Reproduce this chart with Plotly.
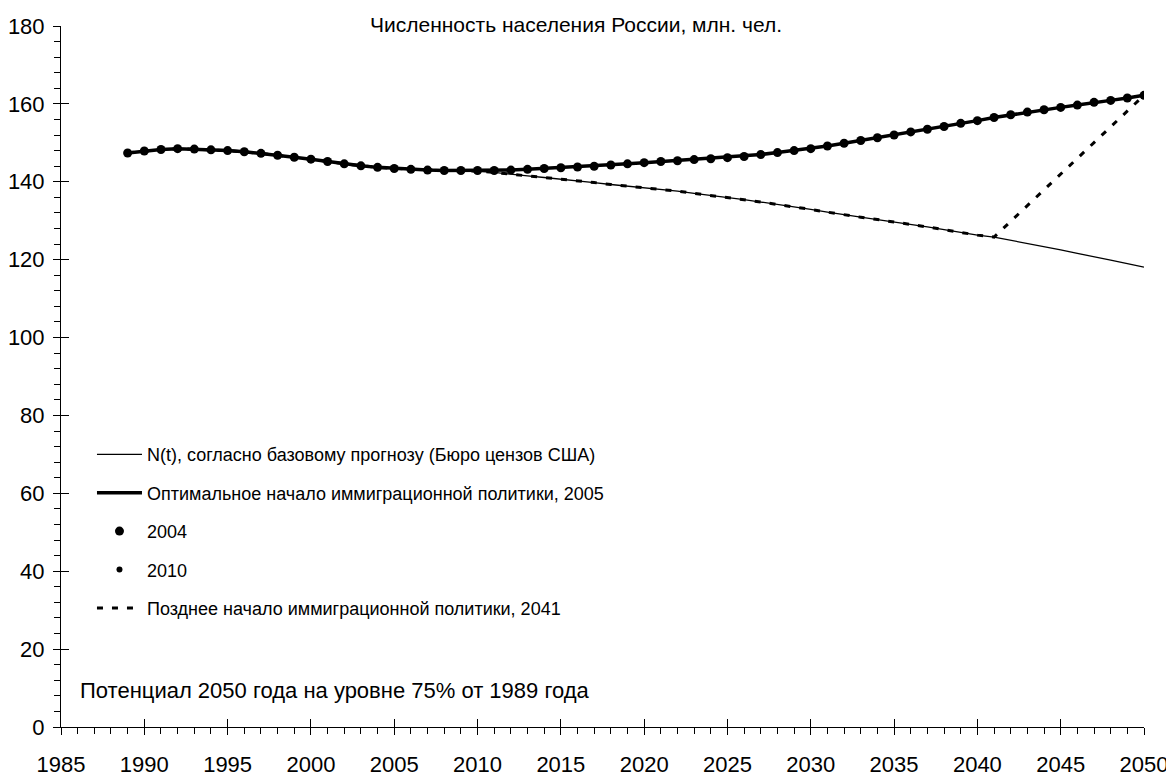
import plotly.graph_objects as go

years = list(range(1989, 2051))

# Optimal immigration policy (2005) – top curve; series 2004 and 2010 coincide with it
optimal = [147.4, 147.9, 148.3, 148.5, 148.4, 148.2, 148.0, 147.7, 147.3, 146.8,
           146.3, 145.8, 145.2, 144.6, 144.1, 143.7, 143.4, 143.2, 143.0, 142.9,
           142.9, 142.9, 142.9, 143.0, 143.2, 143.4, 143.6, 143.8, 144.0, 144.3,
           144.6, 144.9, 145.2, 145.4, 145.7, 145.9, 146.2, 146.5, 147.0, 147.5,
           148.0, 148.5, 149.2, 149.9, 150.6, 151.3, 152.0, 152.8, 153.5, 154.2,
           155.0, 155.7, 156.5, 157.2, 157.9, 158.5, 159.1, 159.7, 160.4, 160.9,
           161.5, 162.2]
series_2004 = list(optimal)
series_2010 = list(optimal)

# Base forecast N(t) (US Census Bureau)
base = [147.4, 147.9, 148.3, 148.5, 148.4, 148.2, 148.0, 147.7, 147.3, 146.8,
        146.3, 145.8, 145.2, 144.6, 144.1, 143.7, 143.4, 143.2, 143.0, 142.9,
        142.8, 142.7, 142.4, 141.9, 141.5, 141.1, 140.7, 140.3, 139.8, 139.3,
        138.9, 138.5, 138.0, 137.6, 137.0, 136.5, 136.0, 135.4, 134.8, 134.2,
        133.5, 132.9, 132.2, 131.5, 130.9, 130.3, 129.7, 129.1, 128.4, 127.7,
        127.0, 126.3, 125.8, 125.0, 124.2, 123.4, 122.5, 121.6, 120.8, 119.9,
        119.0, 118.1]

# Late immigration policy (2041)
late_years = list(range(1989, 2042)) + [2050]
late_values = base[:len(range(1989, 2042))] + [162.2]

x_ticks = list(range(1985, 2051, 5))
y_ticks = list(range(0, 181, 20))

FONT = "Liberation Sans, Arial, sans-serif"

fig = go.Figure()
fig.add_trace(go.Scatter(x=years, y=base, mode="lines",
                         line=dict(color="black", width=1.3),
                         name="N(t), согласно базовому прогнозу (Бюро цензов США)",
                         legendgroup="a"))
fig.add_trace(go.Scatter(x=years, y=optimal, mode="lines",
                         line=dict(color="black", width=3.5),
                         name="Оптимальное начало иммиграционной политики, 2005",
                         legendgroup="b"))
fig.add_trace(go.Scatter(x=years, y=series_2004, mode="markers",
                         marker=dict(color="black", size=9, symbol="circle"),
                         name="2004", legendgroup="c"))
fig.add_trace(go.Scatter(x=years, y=series_2010, mode="markers",
                         marker=dict(color="black", size=6, symbol="circle"),
                         name="2010", legendgroup="d"))
fig.add_trace(go.Scatter(x=late_years, y=late_values, mode="lines",
                         line=dict(color="black", width=3, dash="6px,9px"),
                         name="Позднее начало иммиграционной политики, 2041",
                         legendgroup="e"))

# invisible trace on overlay axes for the inner half of crossing major ticks
fig.add_trace(go.Scatter(x=[1985, 2050], y=[0, 180], mode="lines", xaxis="x2", yaxis="y2",
                         line=dict(width=0, color="rgba(0,0,0,0)"), showlegend=False,
                         hoverinfo="skip"))

axis_common = dict(showgrid=False, zeroline=False, showline=True, linecolor="black",
                   linewidth=1, ticks="outside", tickcolor="black", tickwidth=1,
                   automargin=False,
                   tickfont=dict(family=FONT, size=22, color="black"))

fig.update_layout(
    width=1166, height=770,
    margin=dict(l=53, r=30, t=18, b=51),
    paper_bgcolor="white", plot_bgcolor="white",
    font=dict(family=FONT, color="black"),
    showlegend=True,
    legend=dict(x=0.0286, y=0.415, xanchor="left", yanchor="top",
                font=dict(family=FONT, size=18, color="black"),
                bgcolor="rgba(0,0,0,0)", tracegroupgap=12, itemwidth=45,
                traceorder="grouped"),
    xaxis=dict(range=[1985, 2050], tickvals=x_ticks, ticklen=7,
               minor=dict(dtick=1, ticks="outside", ticklen=6, tickcolor="black"),
               ticklabelstandoff=11, **axis_common),
    yaxis=dict(range=[0, 180], tickvals=y_ticks, ticklen=7,
               minor=dict(dtick=4, ticks="outside", ticklen=6, tickcolor="black"),
               ticklabelstandoff=4, **axis_common),
    xaxis2=dict(range=[1985, 2050], overlaying="x", tickvals=x_ticks, ticks="inside",
                ticklen=8, tickcolor="black", showticklabels=False, showgrid=False,
                zeroline=False, showline=False, automargin=False),
    yaxis2=dict(range=[0, 180], overlaying="y", tickvals=y_ticks, ticks="inside",
                ticklen=8, tickcolor="black", showticklabels=False, showgrid=False,
                zeroline=False, showline=False, automargin=False),
    annotations=[
        dict(text="Численность населения России, млн. чел.", xref="paper", yref="paper",
             x=0.4755, y=1.0, xanchor="center", yanchor="middle", yshift=2,
             showarrow=False, font=dict(family=FONT, size=21, color="black")),
        dict(text="Потенциал 2050 года на уровне 75% от 1989 года", xref="x", yref="y",
             x=1986, y=9.5, xanchor="left", yanchor="middle", showarrow=False,
             font=dict(family=FONT, size=22, color="black")),
    ],
)

fig.write_html("out.html")
